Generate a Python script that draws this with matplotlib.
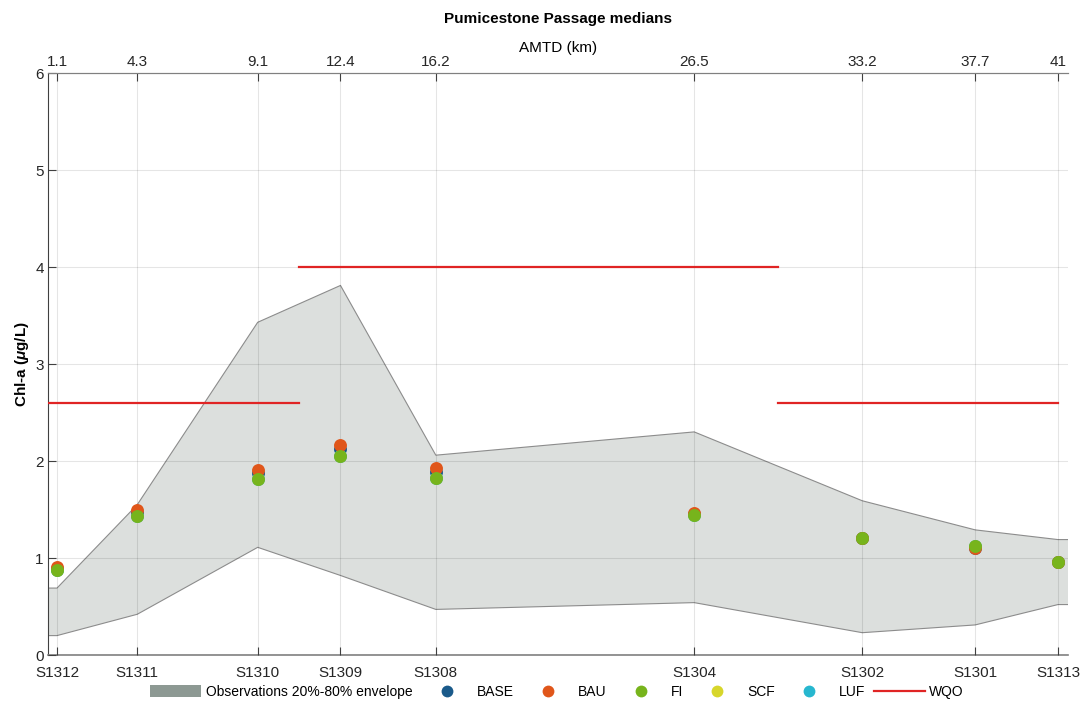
import numpy as np
import matplotlib
matplotlib.use("Agg")
import matplotlib.pyplot as plt
from matplotlib.patches import Patch
from matplotlib.lines import Line2D

plt.rcParams['font.family'] = ['Liberation Sans', 'DejaVu Sans']
plt.rcParams['mathtext.fontset'] = 'custom'
plt.rcParams['mathtext.it'] = 'Liberation Sans:italic:bold'
plt.rcParams['mathtext.rm'] = 'Liberation Sans:bold'

# ---- data ----
stations = ["S1312", "S1311", "S1310", "S1309", "S1308", "S1304", "S1302", "S1301", "S1313"]
amtd = [1.1, 4.3, 9.1, 12.4, 16.2, 26.5, 33.2, 37.7, 41.0]
amtd_labels = ["1.1", "4.3", "9.1", "12.4", "16.2", "26.5", "33.2", "37.7", "41"]

env_upper = [0.69, 1.55, 3.43, 3.81, 2.06, 2.30, 1.59, 1.29, 1.19]
env_lower = [0.20, 0.42, 1.11, 0.82, 0.47, 0.54, 0.23, 0.31, 0.52]

base = [0.89, 1.46, 1.88, 2.12, 1.89, 1.45, 1.21, 1.10, 0.96]
bau = [0.91, 1.49, 1.91, 2.17, 1.93, 1.46, 1.21, 1.10, 0.96]
fi = [0.88, 1.43, 1.81, 2.05, 1.82, 1.44, 1.21, 1.12, 0.96]
scf = [0.88, 1.43, 1.81, 2.05, 1.82, 1.44, 1.21, 1.12, 0.96]
luf = [0.88, 1.43, 1.81, 2.05, 1.82, 1.44, 1.21, 1.12, 0.96]

wqo_x = [[0.74, 10.75], [10.75, 29.85], [29.85, 41.0]]
wqo_y = [2.6, 4.0, 2.6]

xlim = (0.74, 41.4)
ylim = (0, 6)

# ---- figure ----
fig = plt.figure(figsize=(10.88, 7.04), dpi=100)
ax = fig.add_axes([0.0441, 0.0696, 0.9375, 0.8267])

ex = np.r_[xlim[0], amtd, xlim[1]]
eu = np.r_[env_upper[0], env_upper, env_upper[-1]]
el = np.r_[env_lower[0], env_lower, env_lower[-1]]
ax.fill_between(ex, el, eu, facecolor=(0.862, 0.874, 0.866), edgecolor='none', zorder=1)
ax.plot(ex, eu, color='#8c8c8c', lw=0.8, zorder=1.5)
ax.plot(ex, el, color='#8c8c8c', lw=0.8, zorder=1.5)

for (x0, x1), y in zip(wqo_x, wqo_y):
    ax.plot([x0, x1], [y, y], color='#e02424', lw=1.6, zorder=3)

ms = 9.3
series = [("BASE", base, '#1a5a8a', 3.0), ("SCF", scf, '#d7d62b', 3.1),
          ("LUF", luf, '#27b7cf', 3.2), ("BAU", bau, '#e0561a', 3.3),
          ("FI", fi, '#77b41c', 3.4)]
for name, vals, col, z in series:
    ax.plot(amtd, vals, 'o', color=col, ms=ms, mec='none', zorder=z)

ax.set_xlim(*xlim)
ax.set_ylim(*ylim)
ax.set_xticks(amtd)
ax.set_xticklabels(stations)
ax.set_yticks(range(0, 7))
ax.grid(True, color='k', alpha=0.1, lw=0.8)
ax.set_axisbelow(False)
ax.tick_params(axis='both', direction='in', length=6, width=0.8, colors='#404040',
               labelsize=11, labelcolor='#262626')
ax.tick_params(axis='x', pad=8)
ax.tick_params(axis='y', pad=3)
ax.spines['right'].set_visible(False)
ax.spines['top'].set_color('#808080')
ax.spines['bottom'].set_color('#808080')
ax.spines['bottom'].set_linewidth(1.2)
ax.spines['left'].set_color('#404040')
ax.spines['left'].set_linewidth(0.8)
ax.set_ylabel(r'Chl-a ($\mu$g/L)', fontsize=11, fontweight='bold', labelpad=3)

ax2 = ax.twiny()
ax2.set_xlim(*xlim)
ax2.set_xticks(amtd)
ax2.set_xticklabels(amtd_labels)
ax2.tick_params(axis='x', direction='in', length=6, width=0.8, colors='#404040',
                labelsize=11, labelcolor='#262626', pad=3)
for s in ['right', 'left', 'bottom']:
    ax2.spines[s].set_visible(False)
ax2.spines['top'].set_color('#808080')
ax2.set_xlabel('AMTD (km)', fontsize=11, labelpad=2)
ax2.set_title('Pumicestone Passage medians', fontsize=11, fontweight='bold', pad=13)

handles = [Patch(facecolor='#8d9993', edgecolor='none'),
           Line2D([], [], ls='none', marker='o', ms=8.5, mec='none', color='#1a5a8a'),
           Line2D([], [], ls='none', marker='o', ms=8.5, mec='none', color='#e0561a'),
           Line2D([], [], ls='none', marker='o', ms=8.5, mec='none', color='#77b41c'),
           Line2D([], [], ls='none', marker='o', ms=8.5, mec='none', color='#d7d62b'),
           Line2D([], [], ls='none', marker='o', ms=8.5, mec='none', color='#27b7cf'),
           Line2D([], [], color='#e02424', lw=1.6)]
labels = ['Observations 20%-80% envelope', 'BASE', 'BAU', 'FI', 'SCF', 'LUF', 'WQO']
fig.legend(handles, labels, loc='center', bbox_to_anchor=(0.512, 0.017), ncol=7,
           frameon=False, fontsize=10, handlelength=3.7, handleheight=1.0,
           handletextpad=0.3, columnspacing=0.62, borderpad=0)

fig.savefig('out.png', dpi=100)
